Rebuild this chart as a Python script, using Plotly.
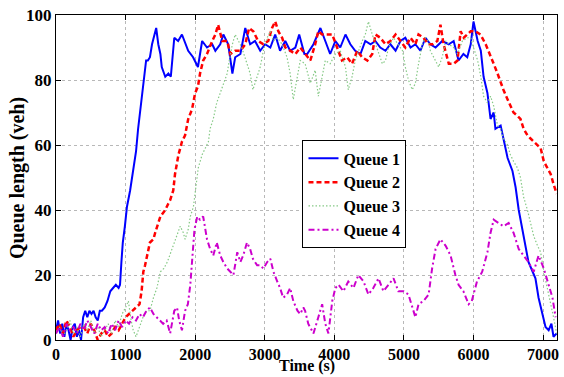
import plotly.graph_objects as go

# ---- data ----
t_q1 = [0,30,60,90,120,150,180,210,240,270,300,330,360,390,420,450,480,510,540,570,600,630,660,700,740,780,820,860,900,920,940,960,990,1020,1065,1110,1150,1180,1220,1250,1295,1320,1350,1380,1400,1440,1470,1500,1520,1570,1615,1650,1700,1755,1810,1860,1900,1970,2040,2100,2170,2245,2290,2360,2405,2475,2535,2575,2650,2720,2790,2860,2935,3005,3080,3150,3220,3295,3365,3440,3495,3570,3610,3700,3800,3870,3940,4015,4085,4160,4230,4300,4375,4445,4520,4590,4660,4735,4805,4880,4950,5020,5095,5165,5237,5310,5380,5455,5550,5645,5715,5785,5855,5910,5960,6000,6060,6105,6145,6200,6245,6290,6315,6390,6430,6490,6560,6605,6650,6705,6750,6790,6850,6890,6935,6990,7035,7080,7120,7150,7195]
q1 = [3,6,2,5,1,5,3,0,4,5,1,3,0,7,9,7,9,8,9,7,6,9,9,10,12,15,16,17,16,17,24,30,35,41,46,53,58,65,72,78,86,86,87,91,93,96,91,88,84,81,82,81,93,92,94,91,89,87,84,92,90,91,89,91,94,91,82,87,88,96,91,92,89,91,90,94,89,92,89,90,94,88,88,91,96,92,88,92,90,94,91,89,88,92,91,92,90,89,91,89,92,93,90,91,89,93,91,90,92,91,92,86,88,87,91,98,92,89,81,76,68,70,65,66,62,56,52,47,40,34,28,24,21,19,13,8,4,3,5,1,2]

t_q2 = [0,50,100,150,200,250,300,350,400,450,500,550,600,650,700,750,800,850,900,950,1000,1050,1100,1150,1200,1230,1255,1280,1310,1350,1400,1425,1500,1540,1570,1615,1640,1685,1710,1760,1810,1855,1900,1955,2000,2040,2070,2115,2170,2245,2290,2330,2390,2460,2505,2575,2650,2720,2775,2835,2905,2980,3050,3105,3150,3195,3250,3295,3365,3440,3510,3580,3655,3725,3770,3825,3900,3970,4040,4110,4185,4255,4330,4400,4475,4545,4590,4660,4735,4805,4880,4950,5020,5095,5165,5210,5280,5350,5410,5480,5525,5570,5645,5715,5770,5815,5860,5910,5960,6030,6100,6175,6245,6290,6345,6390,6430,6490,6530,6575,6630,6675,6720,6775,6820,6865,6920,6965,7010,7065,7110,7150,7195]
q2 = [3,5,2,6,4,1,3,4,4,2,5,3,0,2,3,1,2,4,3,5,7,8,9,10,11,15,21,23,26,30,31,33,38,39,40,42,43,46,51,57,61,63,68,71,76,78,82,86,88,92,94,97,92,92,88,89,89,91,96,95,92,91,92,96,98,95,93,90,89,88,90,88,86,91,95,94,94,94,90,86,87,85,89,87,86,88,94,93,91,92,94,92,90,93,91,94,93,91,91,92,97,91,85,85,86,95,93,94,95,95,94,91,87,85,82,79,77,74,72,70,69,68,65,63,62,61,60,59,55,53,51,48,45]

t_q3 = [0,50,100,150,200,250,300,350,400,450,500,550,600,650,700,750,800,850,900,950,1000,1040,1080,1110,1150,1200,1250,1300,1350,1400,1450,1500,1550,1600,1650,1700,1750,1785,1830,1855,1900,1930,1975,2010,2045,2100,2145,2190,2215,2260,2310,2360,2405,2460,2490,2535,2575,2620,2670,2745,2790,2830,2890,2935,2980,3035,3080,3125,3180,3250,3320,3365,3410,3470,3510,3580,3655,3725,3770,3825,3870,3940,4015,4085,4160,4200,4255,4300,4345,4400,4445,4490,4545,4590,4635,4690,4735,4780,4850,4920,4980,5020,5065,5120,5165,5210,5265,5310,5350,5380,5425,5500,5550,5600,5645,5715,5770,5840,5910,5960,6000,6060,6105,6145,6200,6245,6290,6345,6390,6430,6490,6530,6575,6630,6675,6720,6775,6820,6865,6920,6965,7010,7065,7110,7150,7195]
q3 = [2,4,1,3,6,2,4,1,5,3,6,2,4,1,3,5,2,6,4,8,10,12,6,3,1,4,7,9,9,13,16,21,22,24,27,30,33,35,33,31,34,38,41,47,53,57,59,61,65,68,73,76,79,82,86,91,94,92,90,85,82,77,81,84,89,93,95,92,93,91,87,82,74,81,86,85,79,83,75,81,86,85,88,89,84,77,81,86,89,92,94,98,94,91,88,85,86,90,93,91,89,84,80,77,79,85,91,93,92,89,87,84,87,92,91,90,88,92,93,93,90,86,81,75,73,75,72,66,65,62,60,57,55,53,50,44,40,36,32,29,27,21,15,11,7,2]

t_q4 = [0,50,100,150,200,250,300,350,400,450,500,550,600,650,700,750,800,850,900,950,1000,1050,1100,1150,1200,1250,1300,1350,1400,1450,1500,1540,1590,1640,1700,1740,1770,1810,1855,1895,1930,1955,1990,2030,2070,2115,2170,2215,2260,2310,2360,2405,2460,2505,2550,2605,2650,2690,2745,2790,2830,2890,2935,2980,3035,3080,3125,3180,3220,3265,3320,3365,3410,3470,3510,3555,3580,3625,3700,3770,3825,3870,3915,3970,4015,4060,4130,4200,4275,4345,4420,4490,4560,4635,4705,4780,4850,4920,4995,5065,5120,5165,5210,5280,5355,5405,5455,5525,5600,5670,5740,5785,5855,5930,5975,6050,6125,6200,6245,6290,6360,6430,6505,6575,6650,6720,6790,6865,6935,7010,7080,7135,7180]
q4 = [2,4,1,5,3,4,2,5,3,6,4,2,5,3,4,2,5,3,6,4,6,5,7,6,8,7,9,10,8,7,6,5,6,2,9,10,6,3,9,11,17,25,34,38,37,38,31,28,26,30,26,24,22,21,20,27,24,26,30,28,25,23,23,22,24,25,21,18,16,13,14,16,12,9,8,10,9,5,2,7,11,5,2,12,16,17,15,18,16,20,18,14,16,19,15,17,19,15,15,14,10,7,11,12,14,22,28,31,29,26,20,17,15,11,12,18,21,27,33,37,36,35,36,33,28,26,24,21,26,22,17,13,7]

x_ticks = [0, 1000, 2000, 3000, 4000, 5000, 6000, 7000]
y_ticks = [0, 20, 40, 60, 80, 100]
names = ["Queue 1", "Queue 2", "Queue 3", "Queue 4"]
x_title = "Time (s)"
y_title = "Queue length (veh)"

FONT = "Liberation Serif"

fig = go.Figure()
styles = [
    dict(color="#0000ff", width=2, dash="solid"),
    dict(color="#ff0000", width=2.5, dash="5px,3px"),
    dict(color="#86c986", width=1.2, dash="1.5px,2px"),
    dict(color="#cc00cc", width=2, dash="6px,3px,2px,3px"),
]
for t, q, n, s in zip([t_q1, t_q2, t_q3, t_q4], [q1, q2, q3, q4], names, styles):
    fig.add_trace(go.Scatter(x=t, y=q, mode="lines", name=n, line=s))

axis_common = dict(
    showline=True, linecolor="black", linewidth=1, mirror="allticks",
    ticks="inside", ticklen=5, tickcolor="black",
    showgrid=True, gridcolor="#b8b8b8", griddash="dot", gridwidth=1,
    zeroline=False, automargin=False,
)
fig.update_xaxes(range=[0, 7200], tickvals=x_ticks, ticklabelstandoff=0,
                 tickfont=dict(family=FONT, size=16, color="black", weight="bold"),
                 **axis_common)
fig.update_yaxes(range=[0, 100], tickvals=y_ticks, ticklabelstandoff=0,
                 tickfont=dict(family=FONT, size=17, color="black", weight="bold"),
                 **axis_common)

fig.add_annotation(text=x_title, xref="paper", yref="paper", x=0.5, y=-0.08,
                   xanchor="center", yanchor="middle", showarrow=False, borderpad=0,
                   font=dict(family=FONT, size=16, color="black", weight="bold"))
fig.add_annotation(text=y_title, xref="paper", yref="paper", x=-0.078, y=0.498,
                   xanchor="center", yanchor="middle", showarrow=False, textangle=-90,
                   font=dict(family=FONT, size=20, color="black", weight="bold"))

fig.update_layout(
    width=564, height=377,
    margin=dict(l=56, r=7, t=15, b=37),
    paper_bgcolor="white", plot_bgcolor="white",
    showlegend=True,
    legend=dict(x=0.492, y=0.614, xanchor="left", yanchor="top",
                bgcolor="white", bordercolor="black", borderwidth=1,
                font=dict(family=FONT, size=16, color="black", weight="bold"),
                itemwidth=30, tracegroupgap=0),
)

fig.write_html("out.html")
